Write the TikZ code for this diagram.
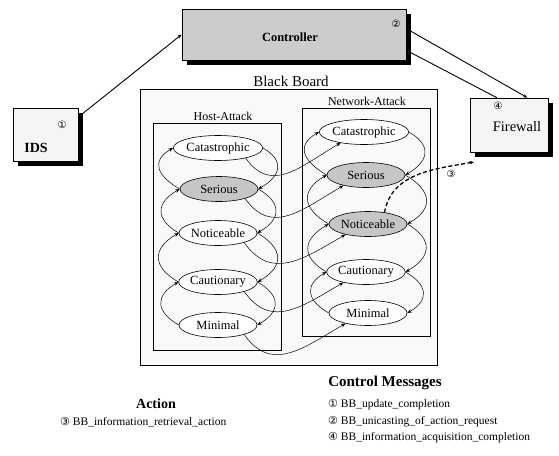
\documentclass[tikz,border=0pt]{standalone}
\usepackage{fontspec}
\setmainfont{Liberation Serif}[BoldFont={Liberation Serif Bold}]
\newfontfamily\circfont{DejaVu Sans}
\usetikzlibrary{shapes.geometric,arrows.meta}
\begin{document}
\begin{tikzpicture}[x=1pt,y=-1pt,
  >={Stealth[length=4.5pt,width=3.5pt]},
  box/.style={draw, line width=0.6pt, fill=gray!8, inner sep=0pt},
  shadowfill/.style={fill=black},
  frame/.style={draw, line width=0.6pt, fill=gray!5, inner sep=0pt},
  level/.style={draw, ellipse, line width=0.6pt, fill=white, minimum width=78pt,
    minimum height=25pt, inner sep=0pt, font=\fontsize{12.5}{14}\selectfont},
  hot/.style={level, fill=gray!45},
  lab/.style={inner sep=0pt},
  circ/.style={inner sep=0pt, font=\circfont\fontsize{10}{11}\selectfont},
  loopleft/.style={->, line width=0.5pt, out=150, in=210, looseness=1.6},
  loopright/.style={->, line width=0.5pt, out=-30, in=30, looseness=1.6},
  crossarc/.style={->, line width=0.5pt, out=-55, in=210, looseness=1.2},
  link/.style={->, line width=0.9pt},
  msg/.style={inner sep=0pt, anchor=west, font=\fontsize{11.5}{13}\selectfont}
]
\useasboundingbox (0,0) rectangle (559,455);
\fill[white] (0,0) rectangle (559,455);

% drop shadows of the three agent boxes
\fill[shadowfill] (186.5,13.5) rectangle (410.5,64.5);
\fill[shadowfill] (17.5,112.5) rectangle (82.5,165.5);
\fill[shadowfill] (474.5,102.5) rectangle (552.5,156.5);

% top boxes
\node[box, fill=gray!40, minimum width=224pt, minimum height=51pt] (ctl) at (294,34.5) {};
\node[lab, font=\bfseries\fontsize{12.5}{14}\selectfont] (ctltxt) at (290,37) {Controller};
\node[circ] (c2) at (396,24) {②};

\node[box, minimum width=65pt, minimum height=53pt] (ids) at (45.5,134.5) {};
\node[lab, font=\bfseries\fontsize{14}{16}\selectfont] (idstxt) at (36,148) {IDS};
\node[circ] (c1) at (62,125) {①};

\node[box, minimum width=78pt, minimum height=54pt] (fw) at (509,125) {};
\node[lab, font=\fontsize{14.5}{16}\selectfont] (fwtxt) at (517,127) {Firewall};
\node[circ] (c4) at (498,106) {④};

% black board
\node[frame, minimum width=297pt, minimum height=276pt] (bb) at (288.5,227) {};
\node[lab, font=\fontsize{15}{17}\selectfont] (bbtxt) at (291,81) {Black Board};
\node[frame, minimum width=128pt, minimum height=227pt] (host) at (217,236.5) {};
\node[lab, font=\fontsize{12}{14}\selectfont] (hosttxt) at (223,116) {Host-Attack};
\node[frame, minimum width=128pt, minimum height=228pt] (net) at (366,222) {};
\node[lab, font=\fontsize{12}{14}\selectfont] (nettxt) at (367,101) {Network-Attack};

% host levels
\node[level] (hcat) at (218,148) {Catastrophic};
\node[hot]   (hser) at (219,189) {Serious};
\node[level] (hnot) at (218,233) {Noticeable};
\node[level] (hcau) at (218,282) {Cautionary};
\node[level] (hmin) at (218,325) {Minimal};

% network levels
\node[level] (ncat) at (364,132) {Catastrophic};
\node[hot]   (nser) at (366,175) {Serious};
\node[hot]   (nnot) at (368,224) {Noticeable};
\node[level] (ncau) at (366,272) {Cautionary};
\node[level] (nmin) at (368,313) {Minimal};

% loops inside each column
\foreach \u/\l in {hcat/hser, hser/hnot, hnot/hcau, hcau/hmin,
                   ncat/nser, nser/nnot, nnot/ncau, ncau/nmin} {
  \draw[loopleft] (\l.west) to (\u.west);
  \draw[loopright] (\u.east) to (\l.east);
}

% cross arcs
\foreach \h/\n in {hcat/ncat, hser/nser, hnot/nnot, hcau/ncau, hmin/nmin} {
  \draw[crossarc] (\h.-20) to (\n.205);
}

% links
\draw[link] (ids.28) -- (ctl.west);
\draw[link] (ctl.3) -- (fw.56);
\draw[link] (fw.114) -- (ctl.-8);

\coordinate (fwin) at (474,162);
\draw[->, line width=1.3pt, dash pattern=on 4pt off 2.5pt] (nnot.35) to[out=80, in=190] (fwin);
\node[circ] (c3) at (451,174) {③};

% legend
\node[lab, font=\bfseries\fontsize{15}{17}\selectfont] (cmtitle) at (385,383) {Control Messages};
\node[msg] (m1) at (328,405) {{\circfont\fontsize{11}{12}\selectfont ①} BB\_update\_completion};
\node[msg] (m2) at (328,422) {{\circfont\fontsize{11}{12}\selectfont ②} BB\_unicasting\_of\_action\_request};
\node[msg] (m4) at (328,438) {{\circfont\fontsize{11}{12}\selectfont ④} BB\_information\_acquisition\_completion};
\node[lab, font=\bfseries\fontsize{14}{16}\selectfont] (acttitle) at (156,404) {Action};
\node[msg] (a3) at (60,422) {{\circfont\fontsize{11}{12}\selectfont ③} BB\_information\_retrieval\_action};
\end{tikzpicture}
\end{document}
